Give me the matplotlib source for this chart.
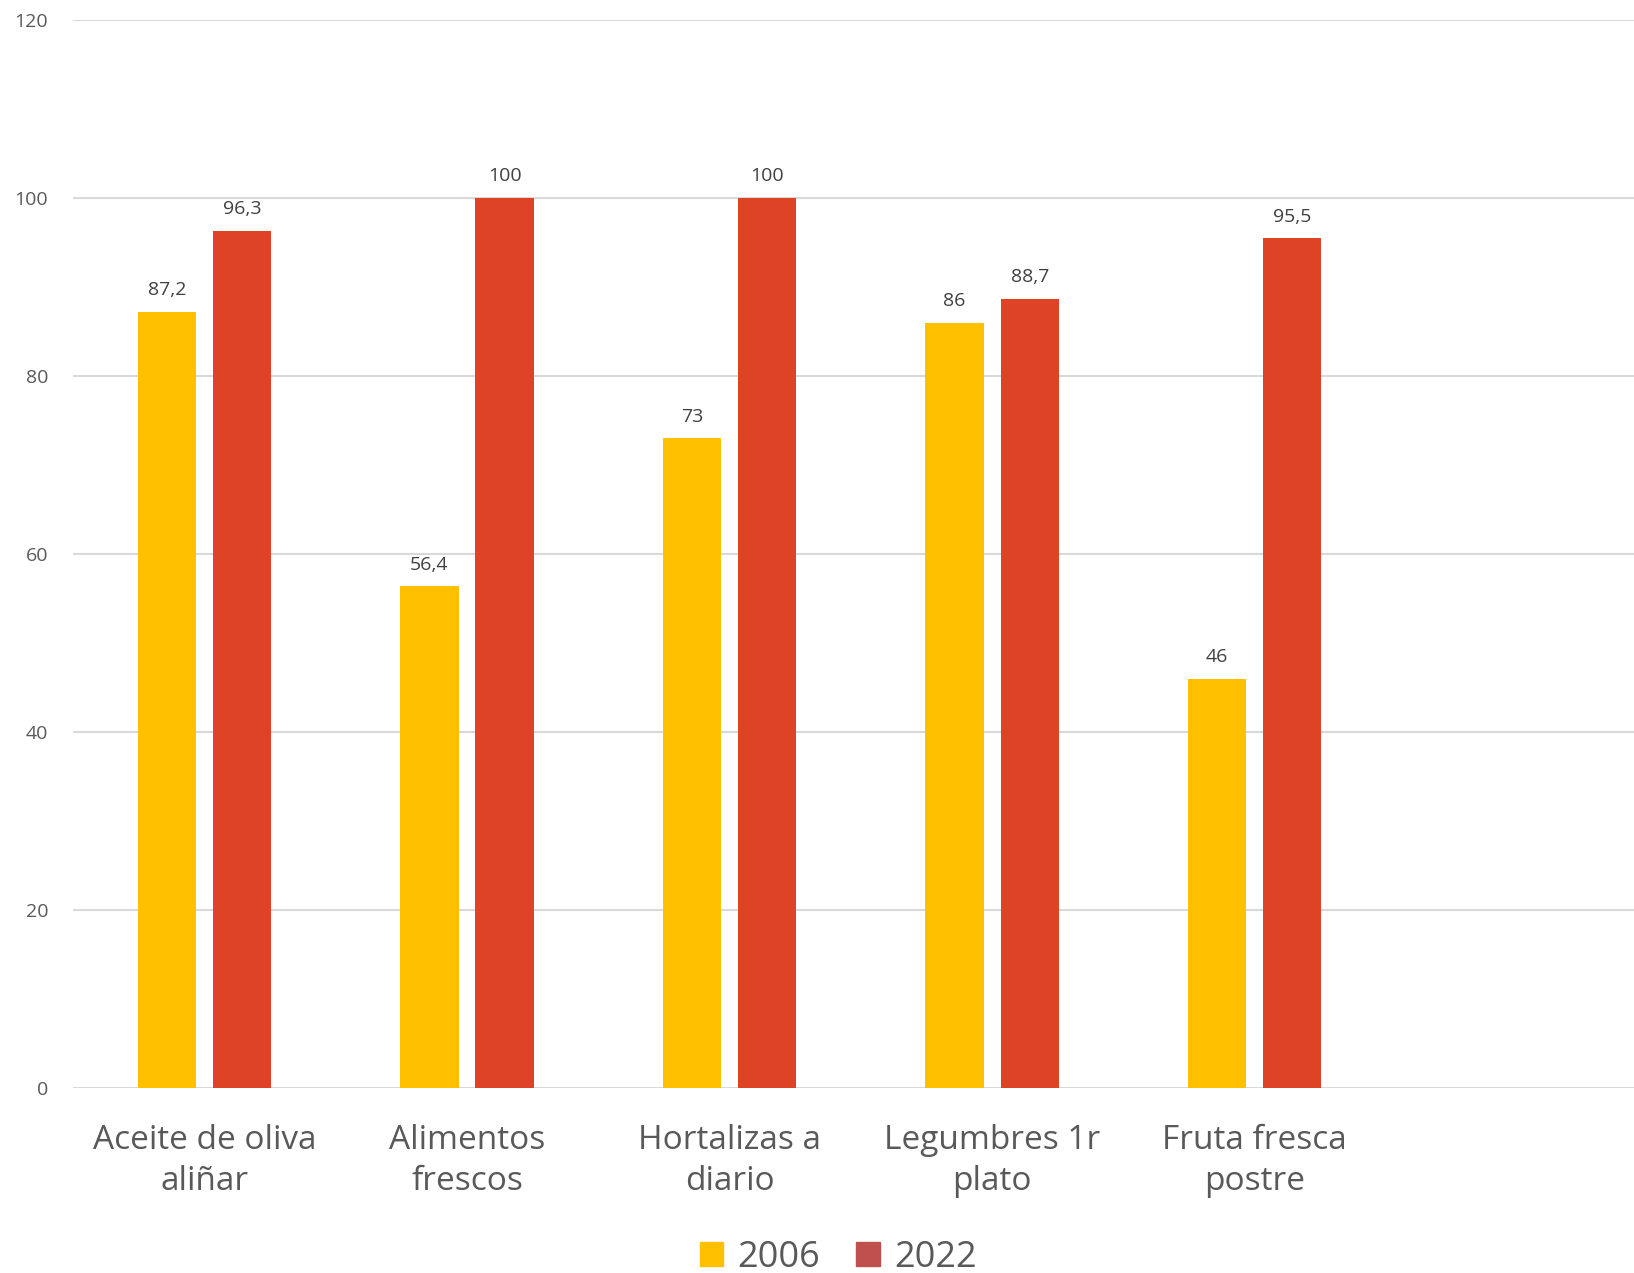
import numpy as np
import matplotlib.pyplot as plt

categories = ["Aceite de oliva\naliñar", "Alimentos\nfrescos", "Hortalizas a\ndiario",
              "Legumbres 1r\nplato", "Fruta fresca\npostre"]
vals_2006 = [87.2, 56.4, 73, 86, 46]
vals_2022 = [96.3, 100, 100, 88.7, 95.5]
labels_2006 = ["87,2", "56,4", "73", "86", "46"]
labels_2022 = ["96,3", "100", "100", "88,7", "95,5"]

YELLOW = "#FFC000"
RED = "#DD4324"
RED_LEGEND = "#C0504D"

plt.rcParams['font.family'] = ['Open Sans', 'DejaVu Sans']

fig = plt.figure(figsize=(16.34, 12.73), dpi=100)
ax = fig.add_axes([0.0447, 0.1453, 0.9553, 0.839])

x = np.arange(len(categories))
w = 0.222
off = 0.143
b1 = ax.bar(x - off, vals_2006, w, color=YELLOW, zorder=3)
b2 = ax.bar(x + off, vals_2022, w, color=RED, zorder=3)

for bars, labs in ((b1, labels_2006), (b2, labels_2022)):
    for bar, lab in zip(bars, labs):
        ax.annotate(lab, (bar.get_x() + bar.get_width() / 2, bar.get_height()),
                    xytext=(0, 9), textcoords="offset points",
                    ha="center", va="bottom", fontsize=14, color="#404040")

ax.set_xlim(-0.5, 5.444)
ax.set_ylim(0, 120)
ax.set_yticks(range(0, 121, 20))
ax.yaxis.grid(True, color="#D9D9D9", linewidth=1.5, zorder=0)
ax.set_axisbelow(True)
for s in ax.spines.values():
    s.set_visible(False)
ax.tick_params(axis="y", length=0, labelsize=14, labelcolor="#595959", pad=18)
ax.tick_params(axis="x", length=0, labelsize=24, labelcolor="#595959", pad=26)
ax.set_xticks(x)
ax.set_xticklabels(categories, linespacing=1.3)

handles = [plt.Rectangle((0, 0), 1, 1, color=YELLOW), plt.Rectangle((0, 0), 1, 1, color=RED_LEGEND)]
fig.legend(handles, ["2006", "2022"], loc="center", bbox_to_anchor=(0.513, 0.012),
           ncol=2, frameon=False, fontsize=26, labelcolor="#595959",
           handlelength=0.65, handleheight=0.65, handletextpad=0.4, columnspacing=1.0)

fig.savefig("out.png", dpi=100)
